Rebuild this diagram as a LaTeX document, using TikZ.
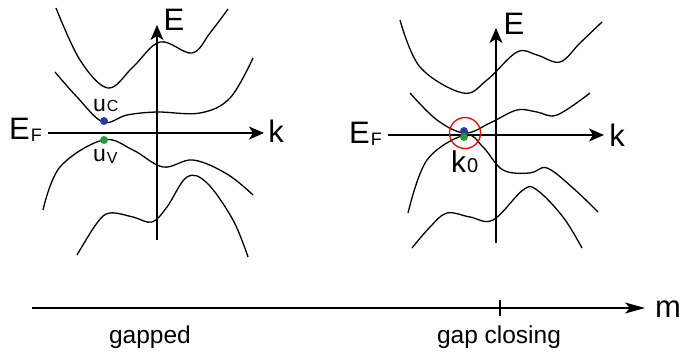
\documentclass[tikz,border=0pt]{standalone}
\usepackage{fontspec}
\setmainfont{Liberation Sans}
\usepackage{tikz}
\usetikzlibrary{positioning,arrows.meta,calc}

\definecolor{bandblue}{RGB}{45,60,160}
\definecolor{bandgreen}{RGB}{40,150,60}
\newcommand{\bigtxt}{\fontsize{31}{31}\selectfont}
\newcommand{\midtxt}{\fontsize{23}{23}\selectfont}
\newcommand{\smalltxt}{\fontsize{16}{16}\selectfont}
\newcommand{\captxt}{\fontsize{24.5}{24.5}\selectfont}

\tikzset{
    band/.style={line width=1.3pt, smooth, tension=0.6},
    axis/.style={line width=1.3pt, -{Stealth[length=15pt,width=13pt,inset=4pt]}},
    lbl/.style={inner sep=0pt, font=\bigtxt},
    dot/.style={circle, inner sep=0pt, minimum size=8pt},
}

\begin{document}
\begin{tikzpicture}[x=1pt, y=-1pt]
    \useasboundingbox (0,0) rectangle (688,354);

    % gapped spectrum
    \coordinate (lEbot) at (157,240);
    \coordinate (lEtop) at (157,25);
    \coordinate (lkleft) at (48,133);
    \coordinate (lkright) at (264,133);
    \draw[axis] (lEbot) -- (lEtop);
    \draw[axis] (lkleft) -- (lkright);
    \node[lbl] (lE) at (174,20) {E};
    \node[lbl] (lk) at (276,131) {k};
    \node[lbl, anchor=base west] (lEF) at (9,139) {E\kern1pt\lower2pt\hbox{\fontsize{18}{18}\selectfont F}};

    \draw[band] plot coordinates {(56,8) (80,60) (108,88) (133,67) (160,42) (192,53) (210,33) (228,9)};
    \draw[band] plot coordinates {(55,72) (77,97) (103,122) (127,115) (157,112) (200,113) (230,98) (253,58)};
    \draw[band] plot coordinates {(43,210) (60,167) (103,140) (133,150) (163,167) (193,160) (227,174) (253,195)};
    \draw[band] plot coordinates {(77,255) (97,223) (110,213) (133,217) (152,222) (167,207) (187,177) (207,183) (233,220) (248,257)};

    \node[dot, fill=bandblue] (uc) at (104,121) {};
    \node[dot, fill=bandgreen] (uv) at (104,140) {};
    \node[inner sep=0pt, anchor=base west, font=\midtxt] (uclbl) at (93,111) {u\kern1pt{\smalltxt C}};
    \node[inner sep=0pt, anchor=base west, font=\midtxt] (uvlbl) at (93,161) {u\kern1pt\lower2pt\hbox{\smalltxt V}};

    % gap closing spectrum
    \coordinate (rEbot) at (496,243);
    \coordinate (rEtop) at (496,28);
    \coordinate (rkleft) at (388,135);
    \coordinate (rkright) at (604,135);
    \draw[axis] (rEbot) -- (rEtop);
    \draw[axis] (rkleft) -- (rkright);
    \node[lbl] (rE) at (514,24) {E};
    \node[lbl] (rk) at (617,135) {k};
    \node[lbl, anchor=base west] (rEF) at (349,143) {E\kern1pt\lower2pt\hbox{\fontsize{18}{18}\selectfont F}};

    \draw[band] plot coordinates {(400,20) (420,67) (463,93) (487,80) (517,52) (537,55) (560,62) (580,43) (602,22)};
    \draw[band] plot coordinates {(410,93) (437,120) (465,133) (490,123) (517,110) (537,112) (557,115) (590,93)};
    \draw[band] plot coordinates {(408,213) (427,160) (465,135) (483,147) (503,170) (530,173) (547,168) (573,188) (598,212)};
    \draw[band] plot coordinates {(412,248) (430,227) (447,213) (470,217) (493,220) (523,190) (537,190) (563,217) (582,248)};

    \node[circle, draw=red, line width=1.3pt, minimum size=31pt, inner sep=0pt] (k0ring) at (465,133) {};
    \node[dot, fill=bandblue] (rc) at (464,131) {};
    \node[dot, fill=bandgreen] (rv) at (464,137) {};
    \node[inner sep=0pt, anchor=base west, font=\fontsize{30}{30}\selectfont] (k0) at (451,172) {k\kern1pt{\fontsize{20}{20}\selectfont 0}};

    % parameter axis
    \coordinate (mleft) at (32,308);
    \coordinate (mright) at (645,308);
    \coordinate (tick) at (500,308);
    \draw[line width=1.3pt, -{Stealth[length=20pt,width=11pt,inset=5pt]}] (mleft) -- (mright);
    \draw[line width=2.6pt] ($(tick)+(0,-8)$) -- ($(tick)+(0,8)$);
    \node[lbl, anchor=base west] (m) at (655,317) {m};
    \node[inner sep=0pt, font=\captxt, anchor=base] (gapped) at (150,343) {gapped};
    \node[inner sep=0pt, font=\captxt, anchor=base] (closing) at (499,343) {gap closing};
\end{tikzpicture}
\end{document}
